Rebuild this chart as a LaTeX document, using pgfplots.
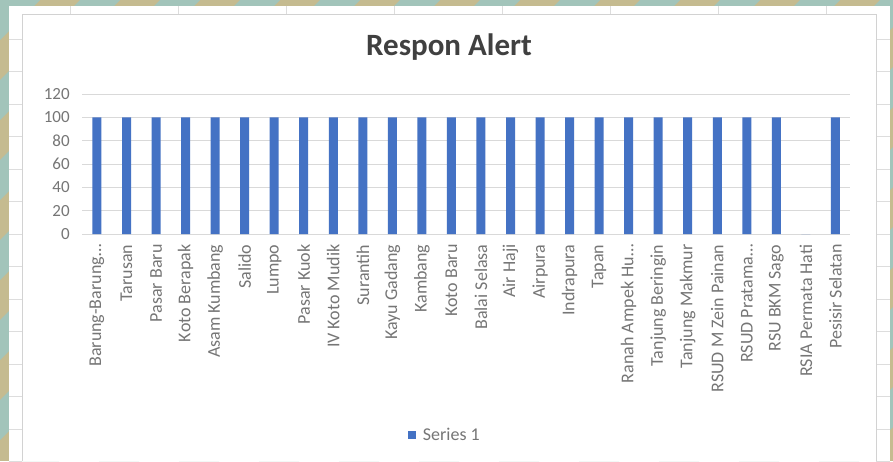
\documentclass[border=0pt]{standalone}
\usepackage{fontspec}
\setmainfont{Carlito}
\usepackage{pgfplots}
\pgfplotsset{compat=1.18}
\definecolor{barblue}{HTML}{4472C4}
\definecolor{gridgray}{HTML}{D9D9D9}
\definecolor{ticktext}{HTML}{767676}
\definecolor{titlegray}{HTML}{404040}
\definecolor{bgtan}{RGB}{197,187,144}
\definecolor{bgteal}{RGB}{162,196,186}
\definecolor{cellline}{HTML}{DDDDDD}

\begin{document}
\begin{tikzpicture}[x=1pt,y=1pt]
% slide background
\fill[bgtan] (0,0) rectangle (893,461);
\begin{scope}[overlay]
  \clip (0,0) rectangle (893,461);
  \foreach \i in {-2,...,18} {
    \fill[bgteal] (\i*80,461) -- ++(40,0) -- ++(-461,-461) -- ++(-40,0) -- cycle;
  }
\end{scope}
\fill[white] (9,0) rectangle (890,455);
% sheet cells around the chart
\foreach \k in {0,...,13} {
  \draw[cellline] (9,{422-\k*32.5}) -- (22,{422-\k*32.5});
  \draw[cellline] (876,{422-\k*32.5}) -- (890,{422-\k*32.5});
}
\foreach \x in {70,178,286,394,502,610,718,826} {
  \draw[cellline] (\x,446) -- (\x,455);
}
\draw[gray!35, line width=1pt] (22,0.5) -- (22,446) -- (876,446) -- (876,0.5);

\node[font=\fontsize{31}{36}\selectfont\bfseries, text=titlegray] at (449,414) {Respon Alert};

\begin{axis}[
    at={(82.2pt,227pt)}, anchor=south west,
    scale only axis,
    width=768pt, height=140pt,
    ybar, bar width=9pt,
    xmin=-0.5, xmax=25.5,
    ymin=0, ymax=120,
    ytick={0,20,...,120},
    xtick={0,...,25},
    xticklabels={Barung-Barung…, Tarusan, Pasar Baru, Koto Berapak, Asam Kumbang,
        Salido, Lumpo, Pasar Kuok, IV Koto Mudik, Surantih, Kayu Gadang, Kambang,
        Koto Baru, Balai Selasa, Air Haji, Airpura, Indrapura, Tapan,
        Ranah Ampek Hu…, Tanjung Beringin, Tanjung Makmur, RSUD M Zein Painan,
        RSUD Pratama…, RSU BKM Sago, RSIA Permata Hati, Pesisir Selatan},
    major tick length=0pt,
    ymajorgrids,
    grid style={gridgray, line width=0.8pt},
    axis line style={draw=none},
    /pgf/number format/assume math mode=true,
    tick label style={text=ticktext},
    yticklabel style={font=\fontsize{17}{20}\selectfont, xshift=-9pt},
    xticklabel style={font=\fontsize{18}{21}\selectfont, rotate=90, anchor=east, xshift=-7pt},
    legend style={at={(0.420,-1.436)}, anchor=west, draw=none, fill=none,
        font=\fontsize{18}{21}\selectfont, text=ticktext},
    legend image code/.code={\fill[barblue] (0pt,-4pt) rectangle (8pt,4pt); \path (13pt,0pt);},
]
\addplot[fill=barblue, draw=none] coordinates {
    (0,100) (1,100) (2,100) (3,100) (4,100) (5,100) (6,100) (7,100) (8,100)
    (9,100) (10,100) (11,100) (12,100) (13,100) (14,100) (15,100) (16,100)
    (17,100) (18,100) (19,100) (20,100) (21,100) (22,100) (23,100) (24,0) (25,100)
};
\legend{Series 1}
\end{axis}
\end{tikzpicture}
\end{document}
